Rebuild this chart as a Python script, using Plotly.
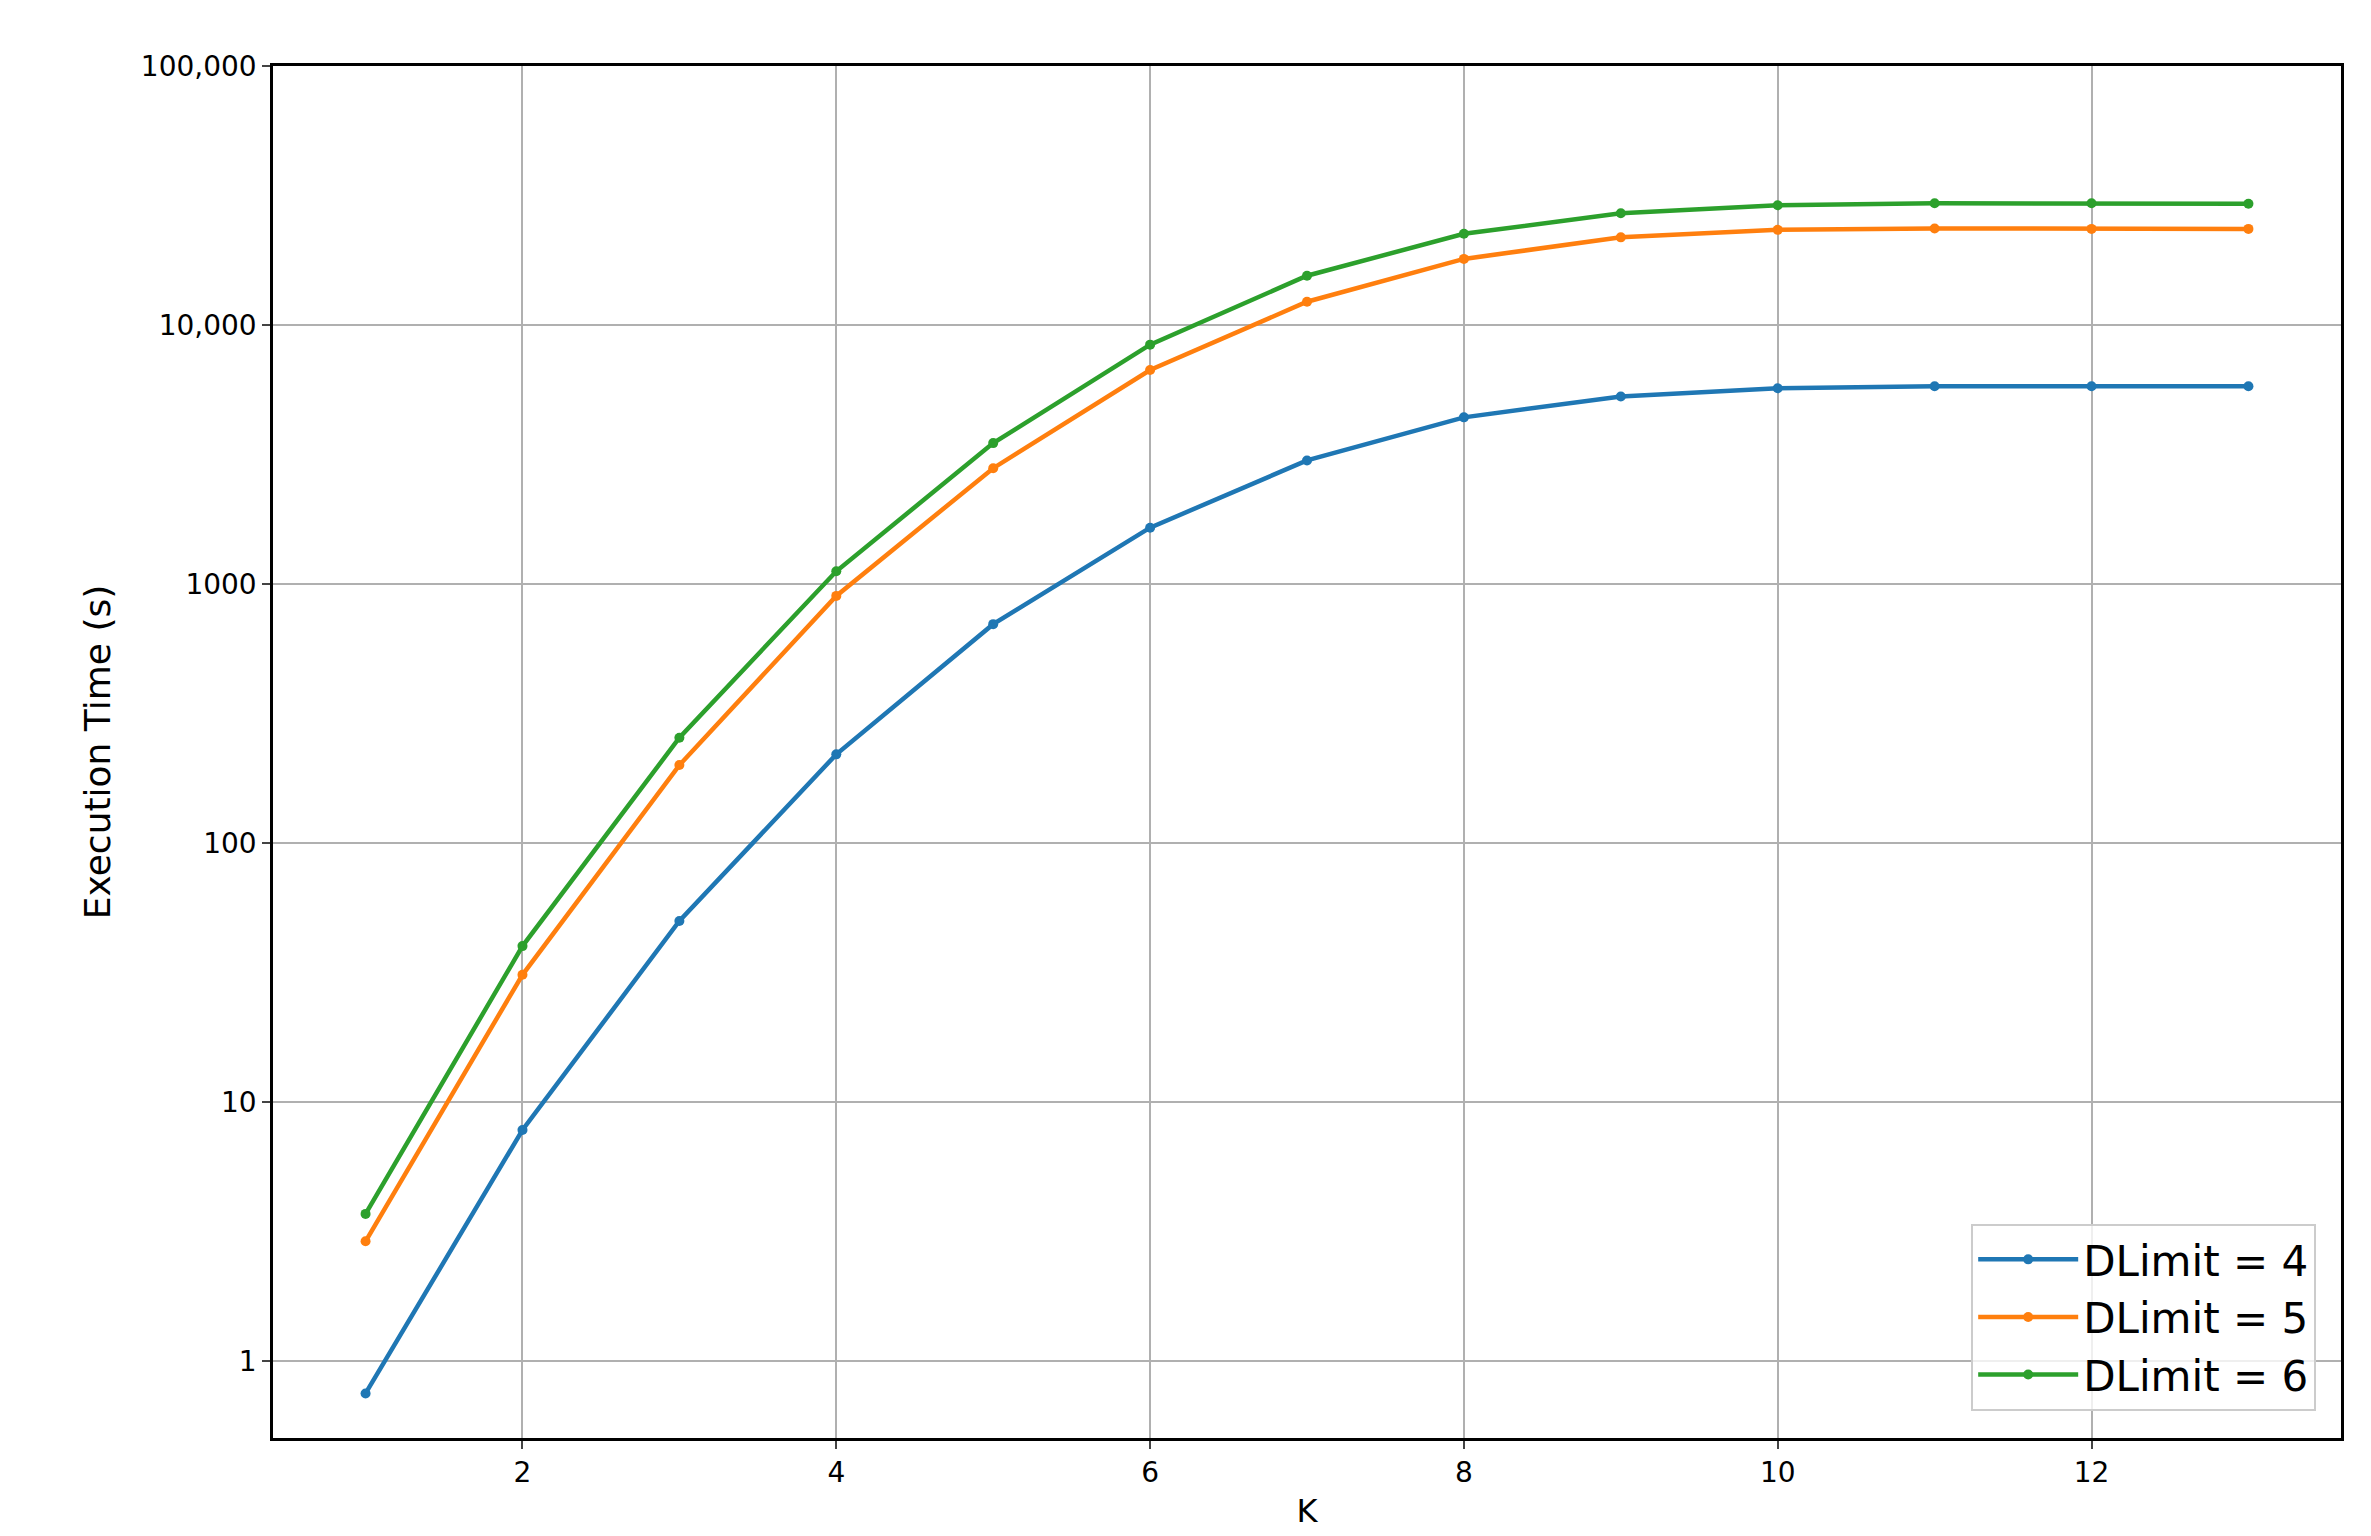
import plotly.graph_objects as go

k = list(range(1, 14))
d4 = [0.75, 7.8, 50, 220, 700, 1650, 3000, 4400, 5300, 5700, 5800, 5800, 5800]
d5 = [2.9, 31, 200, 900, 2800, 6700, 12300, 18000, 21800, 23300, 23600, 23500, 23500]
d6 = [3.7, 40, 255, 1120, 3500, 8400, 15500, 22500, 27000, 29000, 29500, 29500, 29400]
names = ["DLimit = 4", "DLimit = 5", "DLimit = 6"]
colors = ["#1f77b4", "#ff7f0e", "#2ca02c"]

fig = go.Figure()
for ys, n, c in zip([d4, d5, d6], names, colors):
    fig.add_trace(go.Scatter(x=k, y=ys, name=n, mode="lines+markers",
                             line=dict(color=c, width=4.5), marker=dict(size=10, color=c)))

font = "DejaVu Sans"
fig.update_layout(
    width=2371, height=1536, plot_bgcolor="white", paper_bgcolor="white",
    margin=dict(l=265, r=38, t=58, b=106),
    font=dict(family=font, size=28, color="black"),
    legend=dict(x=0.988, y=0.02, xanchor="right", yanchor="bottom",
                font=dict(size=42), bordercolor="#cccccc", borderwidth=2,
                bgcolor="rgba(255,255,255,0.8)", itemwidth=100, tracegroupgap=0),
    showlegend=True,
)
fig.update_xaxes(range=[0.41, 13.59], tickvals=[2, 4, 6, 8, 10, 12], showgrid=True,
                 gridcolor="#b0b0b0", gridwidth=2, showline=True, linecolor="black",
                 linewidth=2.5, mirror=True, ticks="outside", ticklen=8, tickwidth=2,
                 title=dict(text="K", font=dict(size=32), standoff=12), zeroline=False)
fig.update_yaxes(type="log", range=[-0.297, 5], tickvals=[1, 10, 100, 1000, 10000, 100000],
                 ticktext=["1", "10", "100", "1000", "10,000", "100,000"], showgrid=True,
                 gridcolor="#b0b0b0", gridwidth=2, showline=True, linecolor="black",
                 linewidth=2.5, mirror=True, ticks="outside", ticklen=8, tickwidth=2,
                 title=dict(text="Execution Time (s)", font=dict(size=36), standoff=20))
fig.write_html("out.html")
